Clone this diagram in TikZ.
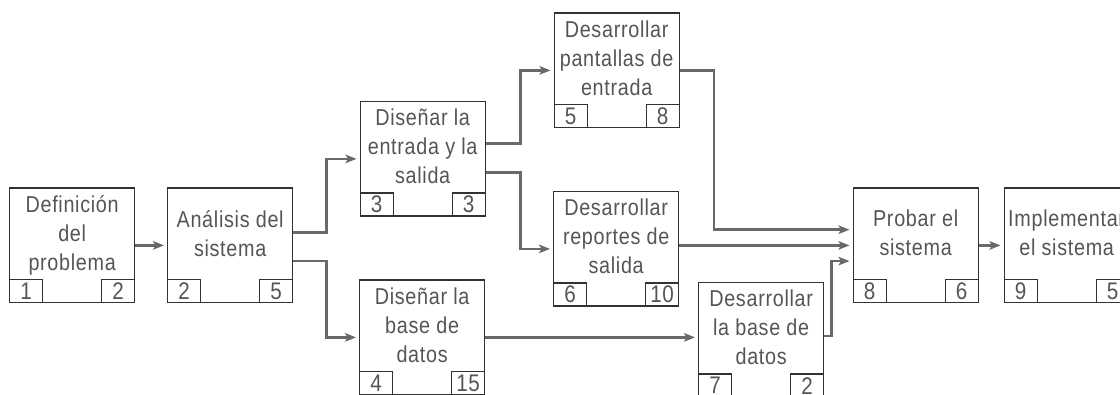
\documentclass[tikz,border=0pt]{standalone}
\usepackage{fontspec}
\setmainfont{Liberation Sans}[FakeStretch=0.86,LetterSpace=3]
\usetikzlibrary{arrows.meta,calc}
\definecolor{txtgray}{RGB}{85,85,85}
\definecolor{linegray}{RGB}{50,50,50}
\definecolor{arrgray}{RGB}{105,105,105}
\begin{document}
\begin{tikzpicture}[x=1pt,y=-1pt,
  task/.style={draw=linegray,line width=1.3pt,minimum width=125pt,minimum height=114.5pt,inner sep=0pt,anchor=north west},
  tasktext/.style={text=txtgray,align=center,inner sep=0pt,yshift=8pt,font=\fontsize{23}{29}\selectfont,execute at begin node=\strut,execute at end node=\strut},
  dur/.style={draw=linegray,line width=1.3pt,minimum width=33pt,minimum height=23pt,inner sep=0pt,text=txtgray,font=\fontsize{24}{26}\selectfont},
  flow/.style={draw=arrgray,line width=2.4pt,-{Stealth[length=11pt,width=8.5pt,inset=2.5pt]},shorten >=3pt}
]
\useasboundingbox (0,0) rectangle (1120,395);
\clip (0,0) rectangle (1120,395);
% boxes
\node[task] (b1) at (9,187.5) {};
\node[task] (b2) at (167,187.5) {};
\node[task] (b3) at (359.5,101) {};
\node[task] (b4) at (359,279.5) {};
\node[task] (b5) at (553.5,12.5) {};
\node[task] (b6) at (553,191) {};
\node[task] (b7) at (698,282) {};
\node[task] (b8) at (852.5,187.5) {};
\node[task] (b9) at (1003.5,187.5) {};
% texts
\node[tasktext] (t1) at (b1.center) {Definición\\del\\problema};
\node[tasktext] (t2) at (b2.center) {Análisis del\\sistema};
\node[tasktext] (t3) at (b3.center) {Diseñar la\\entrada y la\\salida};
\node[tasktext] (t4) at (b4.center) {Diseñar la\\base de\\datos};
\node[tasktext] (t5) at (b5.center) {Desarrollar\\pantallas de\\entrada};
\node[tasktext] (t6) at (b6.center) {Desarrollar\\reportes de\\salida};
\node[tasktext] (t7) at (b7.center) {Desarrollar\\la base de\\datos};
\node[tasktext] (t8) at (b8.center) {Probar el\\sistema};
\node[tasktext] (t9) at (b9.center) {Implementar\\el sistema};
% durations
\node[dur,anchor=south west] (b1s) at (b1.south west) {1};
\node[dur,anchor=south east] (b1f) at (b1.south east) {2};
\node[dur,anchor=south west] (b2s) at (b2.south west) {2};
\node[dur,anchor=south east] (b2f) at (b2.south east) {5};
\node[dur,anchor=south west] (b3s) at (b3.south west) {3};
\node[dur,anchor=south east] (b3f) at (b3.south east) {3};
\node[dur,anchor=south west] (b4s) at (b4.south west) {4};
\node[dur,anchor=south east] (b4f) at (b4.south east) {15};
\node[dur,anchor=south west] (b5s) at (b5.south west) {5};
\node[dur,anchor=south east] (b5f) at (b5.south east) {8};
\node[dur,anchor=south west] (b6s) at (b6.south west) {6};
\node[dur,anchor=south east] (b6f) at (b6.south east) {10};
\node[dur,anchor=south west] (b7s) at (b7.south west) {7};
\node[dur,anchor=south east] (b7f) at (b7.south east) {2};
\node[dur,anchor=south west] (b8s) at (b8.south west) {8};
\node[dur,anchor=south east] (b8f) at (b8.south east) {6};
\node[dur,anchor=south west] (b9s) at (b9.south west) {9};
\node[dur,anchor=south east] (b9f) at (b9.south east) {5};
% connectors
\draw[flow] (b1.east) -- (b2.west);
\draw[flow] ($(b2.east)+(0,-13)$) -- ++(33,0) |- (b3.west);
\draw[flow] ($(b2.east)+(0,15.5)$) -- ++(33,0) |- (b4.west);
\draw[flow] ($(b3.east)+(0,-15.3)$) -- ++(34.5,0) |- (b5.west);
\draw[flow] ($(b3.east)+(0,13.7)$) -- ++(34.5,0) |- (b6.west);
\draw[flow] (b5.east) -- ++(34.2,0) |- ($(b8.west)+(0,-15.7)$);
\draw[flow] (b8.west -| b6.east) -- (b8.west);
\draw[flow] (b4.east) -- (b4.east -| b7.west);
\draw[flow] ($(b7.east)+(0,-4)$) -- ++(7,0) |- ($(b8.west)+(0,15.7)$);
\draw[flow] (b8.east) -- (b9.west);
\end{tikzpicture}
\end{document}
